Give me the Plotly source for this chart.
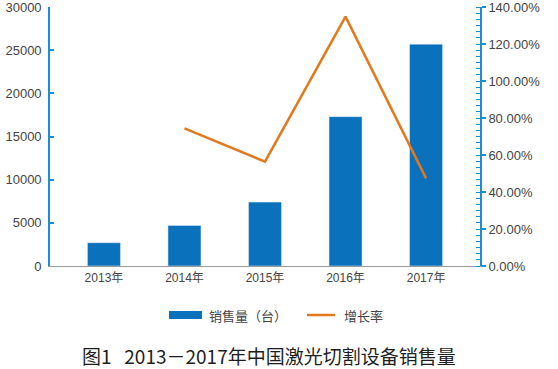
import plotly.graph_objects as go

years = ["2013年", "2014年", "2015年", "2016年", "2017年"]
sales = [2700, 4700, 7400, 17300, 25700]
growth_years = ["2014年", "2015年", "2016年", "2017年"]
growth = [74.4, 56.4, 134.8, 47.4]

BLUE = "#0a71bd"
AXBLUE = "#1b8fd6"
ORANGE = "#e2791c"
TXT = "#444444"
FONT = "Liberation Sans, Noto Sans CJK SC, sans-serif"

fig = go.Figure()
fig.add_trace(go.Bar(x=years, y=sales, name="销售量（台）", marker_color=BLUE,
                     width=0.41, showlegend=False))
fig.add_trace(go.Scatter(x=growth_years, y=growth, name="增长率", yaxis="y2",
                         mode="lines", line=dict(color=ORANGE, width=2.5),
                         showlegend=False))

fig.update_layout(
    width=558, height=369,
    margin=dict(l=50, r=78, t=7, b=103, autoexpand=False),
    plot_bgcolor="white", paper_bgcolor="white",
    font=dict(family=FONT, size=13, color=TXT),
    xaxis=dict(type="category", range=[-0.67, 4.67], showline=True,
               linecolor="#9a9a9a", linewidth=1.2, ticks="",
               tickfont=dict(size=12), showgrid=False, zeroline=False,
               automargin=False),
    yaxis=dict(range=[0, 30001], tickmode="array",
               tickvals=[0, 5000, 10000, 15000, 20000, 25000, 30000],
               ticktext=["0", "5000", "10000", "15000", "20000", "25000", "30000"],
               showline=True, linecolor=AXBLUE,
               linewidth=1.6, ticks="inside", ticklen=4, tickcolor=AXBLUE,
               tickwidth=1.5, showgrid=False, zeroline=False,
               ticklabelstandoff=4, ticklabeloverflow="allow",
               automargin=False),
    yaxis2=dict(range=[0, 140.01], tickmode="array",
                tickvals=[0, 20, 40, 60, 80, 100, 120, 140],
                ticktext=["0.00%", "20.00%", "40.00%", "60.00%", "80.00%",
                          "100.00%", "120.00%", "140.00%"],
                overlaying="y", side="right",
                showline=True, linecolor=AXBLUE, linewidth=1.6,
                ticks="outside", ticklen=4, tickcolor=AXBLUE, tickwidth=1.5,
                showgrid=False, zeroline=False, ticklabeloverflow="allow",
                automargin=False,
                minor=dict(tickmode="linear", tick0=0, dtick=20/6,
                           ticks="inside", ticklen=4,
                           tickcolor=AXBLUE, tickwidth=1.2)),
)

# custom legend
fig.add_shape(type="rect", xref="paper", yref="paper",
              x0=(169-50)/430, x1=(202-50)/430,
              y0=(266-319)/259, y1=(266-311)/259,
              fillcolor=BLUE, line_width=0)
fig.add_annotation(xref="paper", yref="paper", x=(207-50)/430, y=(266-315)/259,
                   text="销售量（台）", showarrow=False, xanchor="left",
                   yanchor="middle", font=dict(size=13, color=TXT,
                                               family="Noto Sans CJK SC"))
fig.add_shape(type="line", xref="paper", yref="paper",
              x0=(307-50)/430, x1=(335-50)/430,
              y0=(266-315)/259, y1=(266-315)/259,
              line=dict(color=ORANGE, width=2.5))
fig.add_annotation(xref="paper", yref="paper", x=(342-50)/430, y=(266-315)/259,
                   text="增长率", showarrow=False, xanchor="left",
                   yanchor="middle", font=dict(size=13, color=TXT,
                                               family="Noto Sans CJK SC"))
# caption
fig.add_annotation(xref="paper", yref="paper", x=(80-50)/430, y=(266-355)/259,
                   text="图1   2013－2017年中国激光切割设备销售量", showarrow=False,
                   xanchor="left", yanchor="middle",
                   font=dict(size=19, color="#1e1e1e",
                             family="Noto Sans CJK SC"))

fig.write_html("out.html")
